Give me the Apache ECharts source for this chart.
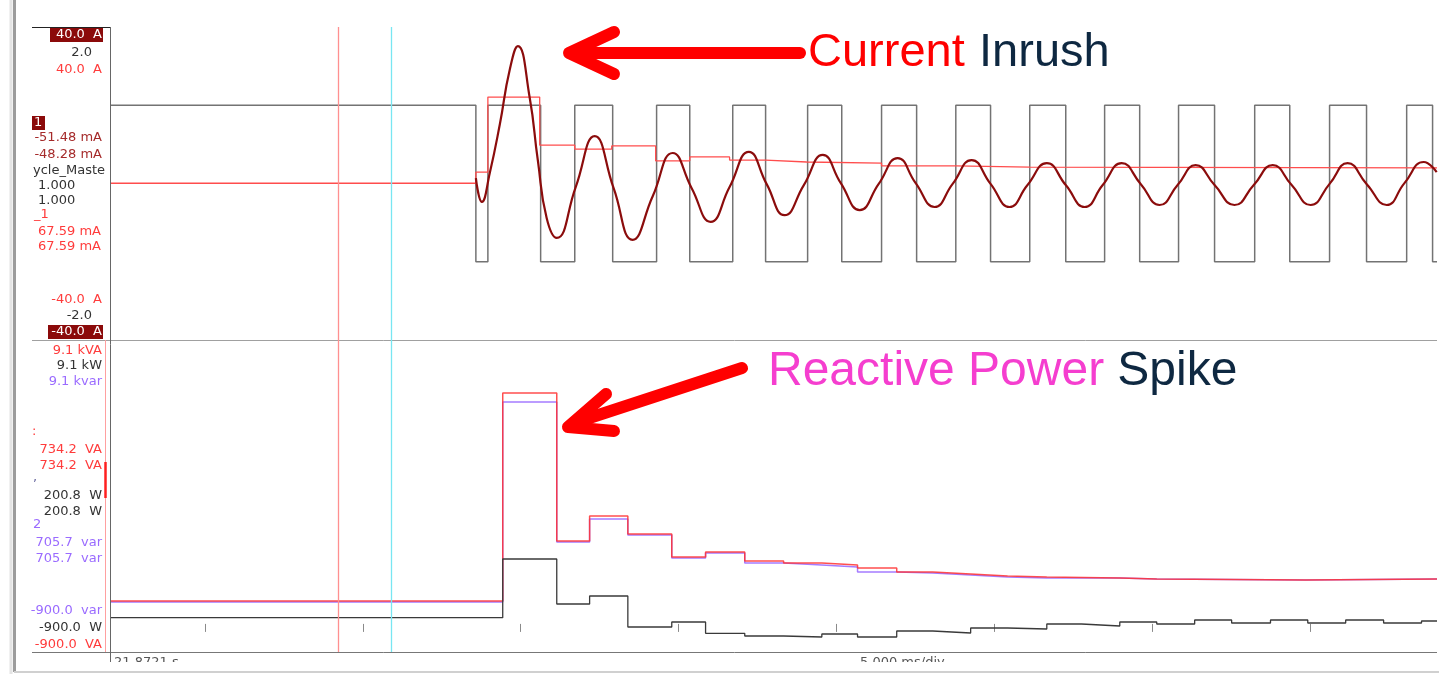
<!DOCTYPE html>
<html><head><meta charset="utf-8">
<script src="https://cdn.jsdelivr.net/npm/echarts@6/dist/echarts.min.js"></script>
<style>html,body{margin:0;padding:0;background:#fff;overflow:hidden}#c{width:1439px;height:674px}</style>
</head><body><div id="c"></div>
<script>
// ================= DATA (time in ms, 5 ms per division) =================
const timeMin = -3.0, timeMax = 39.0;
const divTicks = [0, 5, 10, 15, 20, 25, 30, 35];
const cursorTimes = [4.24, 5.89];

// Cycle_Master digital (±1 on a ±2 scale)
const cycleMasterT = [-3.0, 8.58, 8.96, 10.63, 11.71, 12.91, 14.30, 15.35, 16.71, 17.75, 19.08, 20.16, 21.42, 22.53, 23.77, 24.87, 26.11, 27.25, 28.48, 29.59, 30.82, 31.96, 33.23, 34.34, 35.60, 36.77, 38.04, 38.86, 39.0];
const cycleMasterV = [1, -1, 1, -1, 1, -1, 1, -1, 1, -1, 1, -1, 1, -1, 1, -1, 1, -1, 1, -1, 1, -1, 1, -1, 1, -1, 1, -1, -1];

// RMS current (A), stepped
const rmsT = [-3.0, 8.58, 8.96, 10.60, 11.71, 12.88, 14.27, 15.35, 16.61, 17.75, 19.05, 21.42, 23.77, 26.11, 39.0];
const rmsA = [0.07, 2.9, 22.1, 9.8, 8.8, 9.6, 5.8, 6.8, 6.0, 5.5, 5.2, 4.5, 4.2, 4.0, 4.0];

// Instantaneous current (A): peaks, troughs, flanks
const currentT = [8.58, 8.77, 9.02, 9.34, 9.65, 9.91, 10.28, 10.54, 10.82, 11.14, 11.74, 12.34, 12.94, 13.54, 14.18, 14.81, 15.41, 16.01, 16.61, 17.22, 17.78, 18.35, 18.96, 19.56, 20.13, 20.73, 21.33, 21.93, 22.50, 23.10, 23.67, 24.27, 24.87, 25.47, 26.04, 26.65, 27.25, 27.85, 28.42, 29.02, 29.62, 30.22, 30.79, 31.36, 31.96, 32.59, 33.20, 33.80, 34.40, 35.00, 35.60, 36.17, 36.77, 37.41, 37.97, 38.58, 38.99];
const currentA = [1.4, -4.7, 2.7, 15.2, 29.0, 35.1, 22.1, 6.0, -8.8, -13.9, -0.9, 12.1, -1.2, -14.4, -3.2, 7.8, -1.2, -9.8, -0.9, 8.1, -0.1, -8.1, -0.4, 7.3, 0.1, -6.8, -0.1, 6.5, 0.1, -6.0, -0.1, 6.0, -0.1, -6.0, -0.4, 5.2, -0.4, -6.0, -0.4, 5.2, -0.1, -5.5, -0.4, 4.7, -0.4, -5.5, -0.4, 4.7, -0.4, -5.5, -0.1, 5.2, -0.1, -5.5, 0.1, 5.5, 2.9];

// Power panel (VA / var / W), stepped
const powerT = [-3.0, 9.43, 11.14, 12.18, 13.39, 14.78, 15.85, 17.09, 18.32, 19.53, 20.66, 21.90, 23.04, 24.24, 25.41, 26.65, 28.96, 30.13, 34.84, 39.0];
const apparentVA = [734.2, 7401, 2658, 3459, 2882, 2145, 2305, 2017, 1952, 1888, 1792, 1664, 1600, 1536, 1504, 1472, 1440, 1408, 1440, 1440];
const reactiveVar = [705.7, 7112, 2626, 3363, 2850, 2113, 2273, 1952, 1888, 1824, 1664, 1632, 1568, 1504, 1472, 1472, 1440, 1408, 1440, 1440];
const realT = [-3.0, 9.43, 11.14, 12.18, 13.39, 14.78, 15.85, 17.09, 18.32, 19.53, 20.66, 21.90, 23.04, 24.24, 25.41, 26.65, 27.75, 28.96, 30.13, 31.33, 32.50, 33.73, 34.91, 36.11, 37.31, 38.51, 39.0];
const realW = [200.8, 2081, 638, 895, -99, 62, -300, -387, -419, -323, -419, -227, -291, -131, -163, -3, -67, 62, -3, 126, 29, 126, 29, 126, 29, 94, 94];

// Scale / readout labels
const topLabels = ['40.0  A', '2.0', '40.0  A', '1', '-51.48 mA', '-48.28 mA', 'ycle_Maste', '1.000', '1.000', '_1', '67.59 mA', '67.59 mA', '-40.0  A', '-2.0', '-40.0  A'];
const bottomLabels = ['9.1 kVA', '9.1 kW', '9.1 kvar', ':', '734.2  VA', '734.2  VA', ',', '200.8  W', '200.8  W', '2', '705.7  var', '705.7  var', '-900.0  var', '-900.0  W', '-900.0  VA'];
const axisTexts = ['21.8721 s', '5.000 ms/div'];
const titleTexts = [['Current', ' Inrush'], ['Reactive Power', ' Spike']];

// ================= LAYOUT / STYLE =================
const RED = '#ff3b3b', GRAY = '#333333', DRED = '#a52a2a', PUR = '#9a6bff', BOX = '#8b0a0a';
// [x, y, align, color, box?]
const topLayout = [
  [102, 35, 'right', '#fff', [50, 28, 53, 14]],
  [92, 53, 'right', GRAY], [102, 70, 'right', RED],
  [34, 123, 'left', '#fff', [32, 116, 13, 14]],
  [102, 138, 'right', DRED], [102, 155, 'right', DRED],
  [33, 171, 'left', GRAY], [38, 186, 'left', GRAY], [38, 201, 'left', GRAY],
  [34, 215, 'left', RED], [101, 232, 'right', RED], [101, 247, 'right', RED],
  [102, 300, 'right', RED], [92, 316, 'right', GRAY],
  [102, 332, 'right', '#fff', [48, 325, 55, 14]]
];
const bottomLayout = [
  [102, 351, 'right', RED], [102, 366, 'right', GRAY], [102, 382, 'right', PUR],
  [32, 432, 'left', RED], [102, 450, 'right', RED], [102, 466, 'right', RED],
  [33, 478, 'left', '#6a6aa0'], [102, 496, 'right', GRAY], [102, 512, 'right', GRAY],
  [33, 525, 'left', PUR], [102, 543, 'right', PUR], [102, 559, 'right', PUR],
  [102, 611, 'right', PUR], [102, 628, 'right', GRAY], [102, 645, 'right', RED]
];

const zip = (a, b) => a.map((v, i) => [v, b[i]]);
const graphics = [];
function addLabels(texts, layout) {
  texts.forEach((t, i) => {
    const [x, y, align, color, box] = layout[i];
    if (box) graphics.push({ type: 'rect', shape: { x: box[0], y: box[1], width: box[2], height: box[3] }, style: { fill: BOX }, z: 10 });
    graphics.push({ type: 'text', x: x, y: y, z: 11, style: { text: t, fill: color, font: '13px "DejaVu Sans"', align: align, verticalAlign: 'middle' } });
  });
}
addLabels(topLabels, topLayout);
addLabels(bottomLabels, bottomLayout);

function line(pts, stroke, w, z) {
  graphics.push({ type: 'polyline', shape: { points: pts }, style: { stroke: stroke, lineWidth: w, fill: null }, z: z || 5, silent: true });
}
// frame
line([[11, 0], [11, 674]], '#e4e4e4', 3);
line([[14.5, 0], [14.5, 672]], '#9c9c9c', 3);
line([[14, 672], [1439, 672]], '#d0d0d0', 2);
line([[32, 27.5], [110, 27.5]], '#222', 1);
line([[32, 340.5], [1437, 340.5]], '#a0a0a0', 1);
line([[32, 652.5], [1437, 652.5]], '#777', 1);
line([[110.5, 27], [110.5, 662]], '#666', 1);
line([[105.5, 340], [105.5, 652]], '#ffa0a0', 1);
line([[105.5, 462], [105.5, 498]], '#ff2020', 2.5);
// axis readouts (half hidden as in the source)
graphics.push({ type: 'text', x: 114, y: 656, z: 5, style: { text: axisTexts[0], fill: '#555', font: '13px "DejaVu Sans"', align: 'left', verticalAlign: 'top' } });
graphics.push({ type: 'text', x: 860, y: 656, z: 5, style: { text: axisTexts[1], fill: '#555', font: '13px "DejaVu Sans"', align: 'left', verticalAlign: 'top' } });
graphics.push({ type: 'rect', shape: { x: 30, y: 662, width: 1409, height: 9 }, style: { fill: '#fff' }, z: 6 });
// annotations
graphics.push({ type: 'text', x: 808, y: 53, z: 20, style: { text: titleTexts[0][0], fill: '#ff0000', font: '47px "Liberation Sans"', align: 'left', verticalAlign: 'middle' } });
graphics.push({ type: 'text', x: 966, y: 53, z: 20, style: { text: titleTexts[0][1], fill: '#0e2841', font: '47px "Liberation Sans"', align: 'left', verticalAlign: 'middle' } });
graphics.push({ type: 'text', x: 768, y: 372, z: 20, style: { text: titleTexts[1][0], fill: '#f53ecf', font: '48px "Liberation Sans"', align: 'left', verticalAlign: 'middle' } });
graphics.push({ type: 'text', x: 1104, y: 372, z: 20, style: { text: titleTexts[1][1], fill: '#0e2841', font: '48px "Liberation Sans"', align: 'left', verticalAlign: 'middle' } });
function arrow(shaft, head) {
  graphics.push({ type: 'polyline', z: 20, shape: { points: shaft }, style: { stroke: '#ff0000', lineWidth: 12, lineCap: 'round', lineJoin: 'round', fill: null } });
  graphics.push({ type: 'polyline', z: 20, shape: { points: head }, style: { stroke: '#ff0000', lineWidth: 12, lineCap: 'round', lineJoin: 'round', fill: null } });
}
arrow([[572, 53], [800, 53]], [[614, 32], [569, 53], [614, 74]]);
arrow([[574, 423], [742, 368]], [[606, 394], [568, 427], [614, 431]]);

const chart = echarts.init(document.getElementById('c'), null, { renderer: 'canvas' });
const hiddenAxis = { axisLine: { show: false }, axisTick: { show: false }, axisLabel: { show: false }, splitLine: { show: false } };
const cursorMark = {
  silent: true, symbol: ['none', 'none'], label: { show: false }, animation: false,
  data: [
    { xAxis: cursorTimes[0], lineStyle: { color: '#ff9090', width: 1.3, type: 'solid' } },
    { xAxis: cursorTimes[1], lineStyle: { color: '#78e6f2', width: 1.3, type: 'solid' } }
  ]
};
chart.setOption({
  animation: false,
  backgroundColor: '#ffffff',
  grid: [
    { left: 110, top: 27, width: 1327, height: 313, outerBoundsMode: 'none' },
    { left: 110, top: 340, width: 1327, height: 312, outerBoundsMode: 'none' }
  ],
  xAxis: [
    Object.assign({ type: 'value', gridIndex: 0, min: timeMin, max: timeMax }, hiddenAxis),
    Object.assign({}, hiddenAxis, {
      type: 'value', gridIndex: 1, min: timeMin, max: timeMax,
      axisTick: { show: true, inside: false, length: 8, customValues: divTicks, lineStyle: { color: '#8a8a8a', width: 1 } }
    })
  ],
  yAxis: [
    Object.assign({ type: 'value', gridIndex: 0, min: -40, max: 40 }, hiddenAxis),
    Object.assign({ type: 'value', gridIndex: 0, min: -2, max: 2 }, hiddenAxis),
    Object.assign({ type: 'value', gridIndex: 1, min: -900, max: 9100 }, hiddenAxis)
  ],
  series: [
    { type: 'line', name: 'Cycle_Master', xAxisIndex: 0, yAxisIndex: 1, step: 'end', data: zip(cycleMasterT, cycleMasterV), showSymbol: false, symbol: 'none', lineStyle: { color: '#5a5a5a', width: 1.5, opacity: 0.85 }, markLine: cursorMark, z: 2 },
    { type: 'line', name: 'RMS', xAxisIndex: 0, yAxisIndex: 0, step: 'end', data: zip(rmsT, rmsA), showSymbol: false, symbol: 'none', lineStyle: { color: '#ff4d4d', width: 1.3 }, z: 3 },
    { type: 'line', name: 'Current', xAxisIndex: 0, yAxisIndex: 0, smooth: 0.5, data: zip(currentT, currentA), showSymbol: false, symbol: 'none', lineStyle: { color: '#8b0c0c', width: 2.2 }, z: 4 },
    { type: 'line', name: 'var', xAxisIndex: 1, yAxisIndex: 2, step: 'end', data: zip(powerT, reactiveVar), showSymbol: false, symbol: 'none', lineStyle: { color: '#a57cff', width: 1.5 }, markLine: cursorMark, z: 2 },
    { type: 'line', name: 'VA', xAxisIndex: 1, yAxisIndex: 2, step: 'end', data: zip(powerT, apparentVA), showSymbol: false, symbol: 'none', lineStyle: { color: '#ff3030', width: 1.5, opacity: 0.85 }, z: 3 },
    { type: 'line', name: 'W', xAxisIndex: 1, yAxisIndex: 2, step: 'end', data: zip(realT, realW), showSymbol: false, symbol: 'none', lineStyle: { color: '#3a3a3a', width: 1.3 }, z: 3 }
  ],
  graphic: graphics
});
</script></body></html>
